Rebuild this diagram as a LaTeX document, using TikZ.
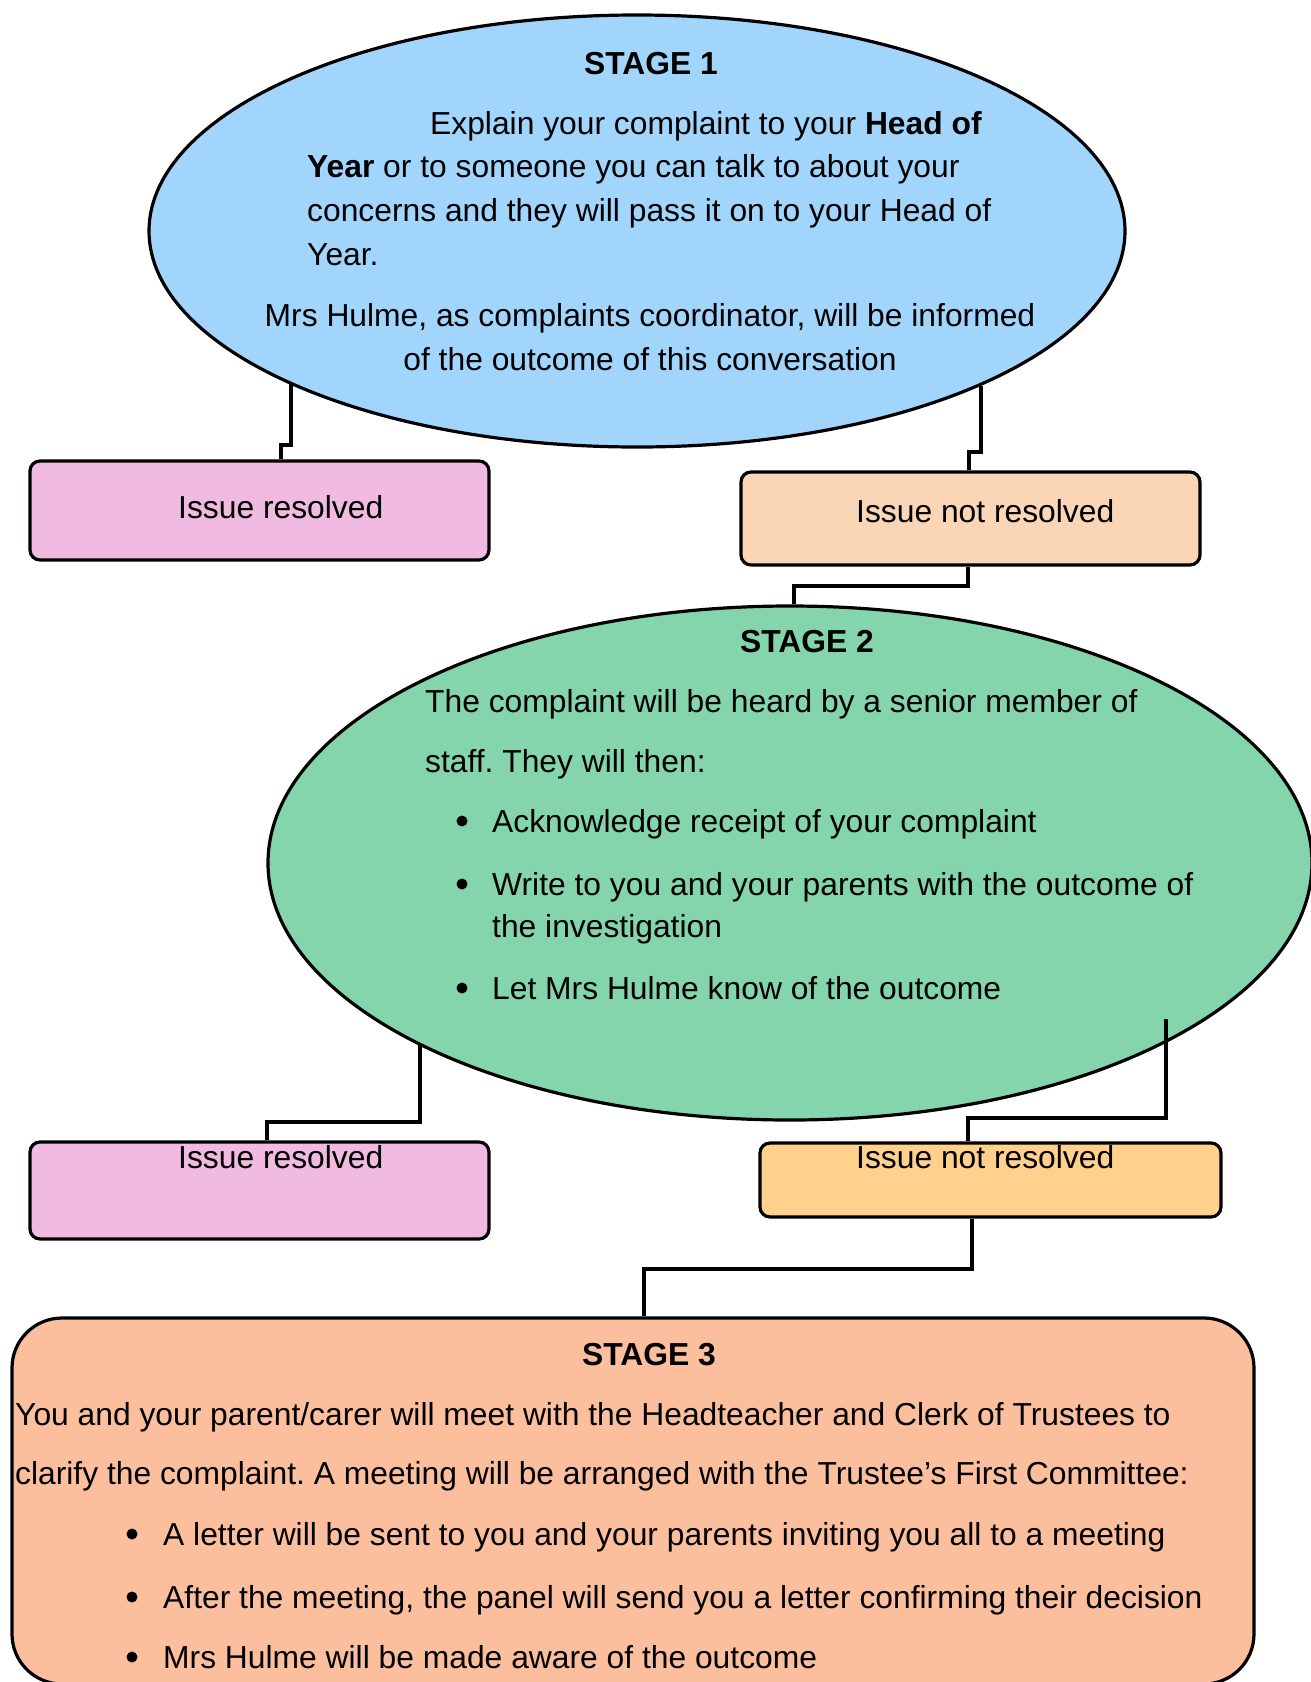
\documentclass[tikz,border=0pt]{standalone}
\usepackage{fontspec}
\setmainfont{Liberation Sans}
\usetikzlibrary{shapes.geometric}
\frenchspacing
\definecolor{sOne}{RGB}{161,213,252}
\definecolor{sTwo}{RGB}{132,212,172}
\definecolor{pinkbox}{RGB}{240,186,225}
\definecolor{peachbox}{RGB}{250,213,182}
\definecolor{orangebox}{RGB}{255,209,140}
\definecolor{sThree}{RGB}{252,191,158}
\tikzset{
  stageell/.style={ellipse, draw=black, line width=3.2pt, inner sep=0pt},
  issuebox/.style={rectangle, draw=black, line width=3.2pt, rounded corners=10pt, inner sep=0pt},
  conn/.style={draw=black, line width=3.2pt},
  txt/.style={anchor=base west, inner sep=0pt, font=\fontsize{31.8}{44}\selectfont},
  ctxt/.style={anchor=base, inner sep=0pt, font=\fontsize{31.8}{44}\selectfont},
  ttl/.style={anchor=base, inner sep=0pt, font=\fontsize{31.8}{44}\selectfont\bfseries},
  bul/.style={circle, fill=black, inner sep=0pt, minimum size=11pt},
}
\begin{document}
\begin{tikzpicture}[x=1pt,y=-1pt]
\useasboundingbox (0,0) rectangle (1311,1682);
% shapes
\node[stageell, fill=sOne, minimum width=976pt, minimum height=432pt] (s1) at (637,231) {};
\node[issuebox, fill=pinkbox, minimum width=459pt, minimum height=99pt] (r1) at (259.5,510.5) {};
\node[issuebox, fill=peachbox, minimum width=459pt, minimum height=93pt] (n1) at (970.5,518.5) {};
\node[stageell, fill=sTwo, minimum width=1044pt, minimum height=514pt] (s2) at (790,863) {};
\node[issuebox, fill=pinkbox, minimum width=459pt, minimum height=97pt] (r2) at (259.5,1190.5) {};
\node[issuebox, fill=orangebox, minimum width=461pt, minimum height=74pt] (n2) at (990.5,1180) {};
\node[rectangle, draw=black, line width=3.2pt, rounded corners=50pt, inner sep=0pt, fill=sThree, minimum width=1242pt, minimum height=366pt] (s3) at (633,1501) {};
% connectors
\coordinate (a1) at (291,384);
\coordinate (a2) at (281,445);
\draw[conn] (a1) |- (a2) -- (a2 |- r1.north);
\coordinate (b1) at (981,386);
\coordinate (b2) at (969,452);
\draw[conn] (b1) |- (b2) -- (b2 |- n1.north);
\coordinate (c1) at (968,586);
\coordinate (c2) at (794,586);
\draw[conn] (c1 |- n1.south) -- (c1) -- (c2) -- (c2 |- s2.north);
\coordinate (d1) at (420,1045);
\coordinate (d2) at (267,1122);
\draw[conn] (d1) |- (d2) -- (d2 |- r2.north);
\coordinate (e1) at (1166,1019);
\coordinate (e2) at (968,1118);
\draw[conn] (e1) |- (e2) -- (e2 |- n2.north);
\coordinate (f1) at (972,1269);
\coordinate (f2) at (644,1269);
\draw[conn] (f1 |- n2.south) -- (f1) -- (f2) -- (f2 |- s3.north);
% stage 1 text
\node[ttl] (t1) at (651,74) {STAGE 1};
\node[txt] (t1a) at (430,134) {Explain your complaint to your \textbf{Head of}};
\node[txt] (t1b) at (307,177) {\textbf{Year} or to someone you can talk to about your};
\node[txt] (t1c) at (307,221) {concerns and they will pass it on to your Head of};
\node[txt] (t1d) at (307,265) {Year.};
\node[ctxt] (t1e) at (650,326) {Mrs Hulme, as complaints coordinator, will be informed};
\node[ctxt] (t1f) at (650,370) {of the outcome of this conversation};
% issue boxes text
\node[txt] (r1t) at (178,518) {Issue resolved};
\node[txt] (n1t) at (856,522) {Issue not resolved};
\node[txt] (r2t) at (178,1168) {Issue resolved};
\node[txt] (n2t) at (856,1168) {Issue not resolved};
% stage 2 text
\node[ttl] (t2) at (807,652) {STAGE 2};
\node[txt] (t2a) at (425,712) {The complaint will be heard by a senior member of};
\node[txt] (t2b) at (425,772) {staff. They will then:};
\node[bul] (u1) at (462,821) {};
\node[txt] (t2c) at (492,832) {Acknowledge receipt of your complaint};
\node[bul] (u2) at (462,884) {};
\node[txt] (t2d) at (492,895) {Write to you and your parents with the outcome of};
\node[txt] (t2e) at (492,937) {the investigation};
\node[bul] (u3) at (462,988) {};
\node[txt] (t2f) at (492,999) {Let Mrs Hulme know of the outcome};
% stage 3 text
\node[ttl] (t3) at (649,1365) {STAGE 3};
\node[txt] (t3a) at (15,1425) {You and your parent/carer will meet with the Headteacher and Clerk of Trustees to};
\node[txt] (t3b) at (15,1484) {clarify the complaint. A meeting will be arranged with the Trustee’s First Committee:};
\node[bul] (v1) at (132,1534) {};
\node[txt] (t3c) at (163,1545) {A letter will be sent to you and your parents inviting you all to a meeting};
\node[bul] (v2) at (132,1597) {};
\node[txt] (t3d) at (163,1608) {After the meeting, the panel will send you a letter confirming their decision};
\node[bul] (v3) at (132,1657) {};
\node[txt] (t3e) at (163,1668) {Mrs Hulme will be made aware of the outcome};
\end{tikzpicture}
\end{document}
